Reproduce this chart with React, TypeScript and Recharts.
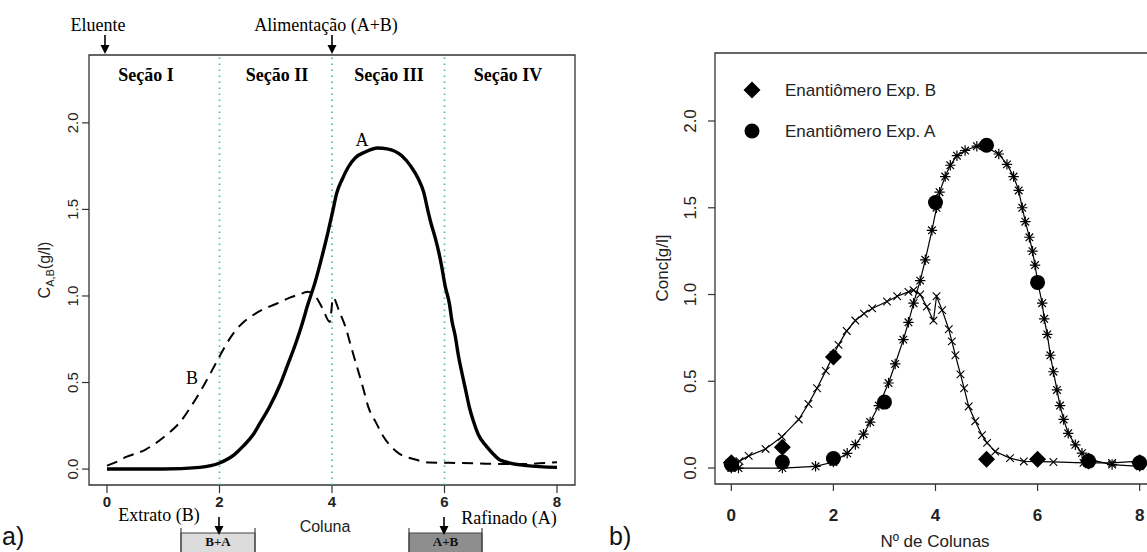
import React from "react";
import {
  ComposedChart,
  Line,
  Scatter,
  XAxis,
  YAxis,
  ReferenceLine,
  ReferenceArea,
} from "recharts";

// simulated profiles along the columns (model), A = more retained, B = less retained
const modelAX = [0, 0.14, 1.0, 1.65, 2.0, 2.27, 2.43, 2.59, 2.72, 2.89, 3.08, 3.21, 3.37, 3.47, 3.57, 3.7, 3.8, 3.93, 4.02, 4.08, 4.19, 4.29, 4.42, 4.58, 4.81, 4.98, 5.24, 5.4, 5.53, 5.63, 5.7, 5.76, 5.84, 5.9, 5.95, 6.01, 6.09, 6.13, 6.19, 6.25, 6.31, 6.38, 6.44, 6.51, 6.6, 6.74, 6.87, 7.0, 7.46, 8.0];
const modelAY = [0, 0, 0, 0.01, 0.035, 0.085, 0.135, 0.195, 0.265, 0.36, 0.49, 0.6, 0.74, 0.84, 0.95, 1.08, 1.2, 1.37, 1.5, 1.59, 1.68, 1.745, 1.8, 1.83, 1.855, 1.85, 1.81, 1.75, 1.68, 1.6, 1.5, 1.42, 1.33, 1.25, 1.17, 1.06, 0.95, 0.86, 0.77, 0.65, 0.555, 0.45, 0.36, 0.28, 0.2, 0.134, 0.086, 0.05, 0.02, 0.01];

const modelBX = [0, 0.16, 0.34, 0.67, 0.99, 1.32, 1.51, 1.68, 1.85, 2.0, 2.1, 2.26, 2.43, 2.6, 2.76, 3.05, 3.25, 3.47, 3.57, 3.7, 3.83, 3.96, 4.02, 4.13, 4.26, 4.32, 4.39, 4.49, 4.56, 4.65, 4.78, 4.91, 5.01, 5.17, 5.46, 5.73, 6.31, 6.9, 7.46, 8.0];
const modelBY = [0.02, 0.04, 0.07, 0.11, 0.18, 0.28, 0.37, 0.46, 0.56, 0.65, 0.71, 0.79, 0.85, 0.89, 0.92, 0.96, 0.99, 1.015, 1.025, 1.0, 0.93, 0.85, 0.99, 0.91, 0.8, 0.73, 0.65, 0.54, 0.46, 0.355, 0.27, 0.19, 0.145, 0.095, 0.057, 0.038, 0.035, 0.03, 0.03, 0.04];

// experimental points
const expBX = [0, 1, 2, 5, 6, 7, 8];
const expBY = [0.03, 0.12, 0.64, 0.05, 0.05, 0.04, 0.03];
const expAX = [0, 1, 2, 3, 4, 5, 6, 7, 8];
const expAY = [0.02, 0.035, 0.055, 0.38, 1.53, 1.86, 1.07, 0.04, 0.03];

const colTicks = [0, 2, 4, 6, 8];
const concTicks = [0, 0.5, 1, 1.5, 2];
const sectionBounds = [2, 4, 6];
const sectionNames = ["Seção I", "Seção II", "Seção III", "Seção IV"];

const xDomain = [-0.32, 8.32];
const yDomain = [-0.092, 2.392];

const pts = (xs: number[], ys: number[]) => xs.map((x, i) => ({ x, y: ys[i] }));
const modelA = pts(modelAX, modelAY);
const modelB = pts(modelBX, modelBY);
const expA = pts(expAX, expAY);
const expB = pts(expBX, expBY);

const SERIF = "'Liberation Serif', 'Times New Roman', serif";
const SANS = "'Liberation Sans', Arial, sans-serif";
const TEAL = "#4fb9b9";
const AXIS = "#333";

function XMark({ cx, cy }: any) {
  const s = 3.8;
  return (
    <path
      d={`M${cx - s},${cy - s}L${cx + s},${cy + s}M${cx - s},${cy + s}L${cx + s},${cy - s}`}
      stroke="#000"
      strokeWidth={1.1}
      fill="none"
    />
  );
}

function StarMark({ cx, cy }: any) {
  const s = 3.8;
  const p = 5.2;
  return (
    <path
      d={`M${cx - s},${cy - s}L${cx + s},${cy + s}M${cx - s},${cy + s}L${cx + s},${cy - s}M${cx - p},${cy}L${cx + p},${cy}M${cx},${cy - p}L${cx},${cy + p}`}
      stroke="#000"
      strokeWidth={1.2}
      fill="none"
    />
  );
}

function Diamond({ cx, cy }: any) {
  const s = 8.5;
  return <path d={`M${cx},${cy - s}L${cx + s},${cy}L${cx},${cy + s}L${cx - s},${cy}Z`} fill="#000" />;
}

function Dot({ cx, cy }: any) {
  return <circle cx={cx} cy={cy} r={7.5} fill="#000" />;
}

function Arrow({ x, y1, y2 }: { x: number; y1: number; y2: number }) {
  return (
    <g>
      <line x1={x} y1={y1} x2={x} y2={y2 - 6} stroke="#000" strokeWidth={1.6} />
      <polygon points={`${x - 4.5},${y2 - 9} ${x + 4.5},${y2 - 9} ${x},${y2}`} fill="#000" />
    </g>
  );
}

function Tray({ x, w, fill, text }: { x: number; w: number; fill: string; text: string }) {
  return (
    <g>
      <rect x={x} y={533} width={w} height={30} fill={fill} stroke="#444" strokeWidth={1} />
      <line x1={x} y1={528} x2={x} y2={552} stroke="#444" strokeWidth={1.2} />
      <line x1={x + w} y1={528} x2={x + w} y2={552} stroke="#444" strokeWidth={1.2} />
      <text x={x + w / 2} y={546} textAnchor="middle" fontFamily={SERIF} fontWeight="bold" fontSize={13} fill="#111">
        {text}
      </text>
    </g>
  );
}

const fmt = (v: number) => v.toFixed(1);

function LeftChart() {
  return (
    <ComposedChart width={590} height={552} margin={{ top: 55, right: 15, bottom: 0, left: 0 }}>
      <XAxis
        dataKey="x"
        type="number"
        domain={xDomain}
        allowDataOverflow
        ticks={colTicks}
        interval={0}
        height={67}
        axisLine={false}
        tickSize={8}
        tickLine={{ stroke: AXIS, strokeWidth: 1.2 }}
        tick={(p: any) => (
          <text x={p.x} y={p.y + 12} textAnchor="middle" fontFamily={SANS} fontWeight="bold" fontSize={15} fill="#222">
            {p.payload.value}
          </text>
        )}
      />
      <YAxis
        type="number"
        domain={yDomain}
        allowDataOverflow
        ticks={concTicks}
        interval={0}
        width={89}
        axisLine={false}
        tickSize={7}
        tickLine={{ stroke: AXIS, strokeWidth: 1.2 }}
        tick={(p: any) => (
          <text
            transform={`translate(${p.x - 2},${p.y}) rotate(-90)`}
            textAnchor="middle"
            fontFamily={SANS}
            fontSize={15}
            fill="#222"
          >
            {fmt(p.payload.value)}
          </text>
        )}
      />
      <ReferenceArea x1={xDomain[0]} x2={xDomain[1]} y1={yDomain[0]} y2={yDomain[1]} fill="none" stroke={AXIS} strokeWidth={1.3} />
      {sectionBounds.map((b) => (
        <ReferenceLine key={b} x={b} stroke={TEAL} strokeWidth={1.8} strokeDasharray="1.5 4.5" />
      ))}
      <Line
        data={modelB}
        dataKey="y"
        type="monotone"
        stroke="#000"
        strokeWidth={2}
        strokeDasharray="11 7"
        dot={false}
        isAnimationActive={false}
      />
      <Line
        data={modelA}
        dataKey="y"
        type="monotone"
        stroke="#000"
        strokeWidth={3.4}
        dot={false}
        isAnimationActive={false}
      />
    </ComposedChart>
  );
}

function RightChart() {
  return (
    <ComposedChart width={566} height={552} margin={{ top: 53, right: 10, bottom: 0, left: 0 }}>
      <XAxis
        dataKey="x"
        type="number"
        domain={xDomain}
        allowDataOverflow
        ticks={colTicks}
        interval={0}
        height={68}
        axisLine={false}
        tickSize={7}
        tickLine={{ stroke: AXIS, strokeWidth: 1.2 }}
        tick={(p: any) => (
          <text x={p.x} y={p.y + 28} textAnchor="middle" fontFamily={SANS} fontWeight="bold" fontSize={17} fill="#222">
            {p.payload.value}
          </text>
        )}
      />
      <YAxis
        type="number"
        domain={yDomain}
        allowDataOverflow
        ticks={concTicks}
        interval={0}
        width={115}
        axisLine={false}
        tickSize={7}
        tickLine={{ stroke: AXIS, strokeWidth: 1.2 }}
        tick={(p: any) => (
          <text
            transform={`translate(${p.x - 10},${p.y}) rotate(-90)`}
            textAnchor="middle"
            fontFamily={SANS}
            fontSize={17}
            fill="#222"
          >
            {fmt(p.payload.value)}
          </text>
        )}
      />
      <ReferenceArea x1={xDomain[0]} x2={xDomain[1]} y1={yDomain[0]} y2={yDomain[1]} fill="none" stroke={AXIS} strokeWidth={1.3} />
      <Line
        data={modelB}
        dataKey="y"
        type="linear"
        stroke="#000"
        strokeWidth={1.2}
        dot={(p: any) => <XMark key={`b${p.index}`} cx={p.cx} cy={p.cy} />}
        isAnimationActive={false}
      />
      <Line
        data={modelA}
        dataKey="y"
        type="linear"
        stroke="#000"
        strokeWidth={1.2}
        dot={(p: any) => <StarMark key={`a${p.index}`} cx={p.cx} cy={p.cy} />}
        isAnimationActive={false}
      />
      <Scatter data={expA} dataKey="y" shape={(p: any) => <Dot cx={p.cx} cy={p.cy} />} isAnimationActive={false} />
      <Scatter data={expB} dataKey="y" shape={(p: any) => <Diamond cx={p.cx} cy={p.cy} />} isAnimationActive={false} />
    </ComposedChart>
  );
}

export default function App() {
  return (
    <div
      style={{
        position: "absolute",
        left: 0,
        top: 0,
        width: 1147,
        height: 552,
        overflow: "hidden",
        background: "#fff",
      }}
    >
      <div style={{ position: "absolute", left: 0, top: 0 }}>
        <LeftChart />
      </div>
      <div style={{ position: "absolute", left: 600, top: 0 }}>
        <RightChart />
      </div>

      {/* annotations around the plots */}
      <svg width={1147} height={552} style={{ position: "absolute", left: 0, top: 0, pointerEvents: "none" }}>
        {/* panel a */}
        <text x={98} y={31} textAnchor="middle" fontFamily={SERIF} fontSize={18}>Eluente</text>
        <Arrow x={105} y1={35} y2={54} />
        <text x={326} y={31} textAnchor="middle" fontFamily={SERIF} fontSize={18}>Alimentação (A+B)</text>
        <Arrow x={332} y1={35} y2={54} />

        {sectionNames.map((s, i) => (
          <text key={s} x={[146, 277, 389, 508][i]} y={81} textAnchor="middle" fontFamily={SERIF} fontWeight="bold" fontSize={18}>
            {s}
          </text>
        ))}
        <text x={362} y={146} textAnchor="middle" fontFamily={SERIF} fontSize={18}>A</text>
        <text x={192} y={384} textAnchor="middle" fontFamily={SERIF} fontSize={18}>B</text>

        <text transform="translate(50,270) rotate(-90)" textAnchor="middle" fontFamily={SANS} fontSize={16} fill="#222">
          C<tspan fontSize={11} dy={4}>A,B</tspan>
          <tspan dy={-4}>(g/l)</tspan>
        </text>

        <text x={159} y={521} textAnchor="middle" fontFamily={SERIF} fontSize={18}>Extrato (B)</text>
        <text x={509} y={524} textAnchor="middle" fontFamily={SERIF} fontSize={18}>Rafinado (A)</text>
        <text x={325} y={532} textAnchor="middle" fontFamily={SANS} fontSize={16} fill="#222">Coluna</text>
        <Tray x={181} w={74} fill="#dcdcdc" text="B+A" />
        <Tray x={409} w={73} fill="#8e8e8e" text="A+B" />
        <Arrow x={219} y1={517} y2={535} />
        <Arrow x={444} y1={517} y2={535} />

        <text x={2} y={545} fontFamily={SANS} fontSize={25} fill="#111">a)</text>

        {/* panel b */}
        <text x={609} y={545} fontFamily={SANS} fontSize={25} fill="#111">b)</text>
        <text transform="translate(668,268) rotate(-90)" textAnchor="middle" fontFamily={SANS} fontSize={17} fill="#222">
          Conc[g/l]
        </text>
        <text x={935} y={547} textAnchor="middle" fontFamily={SANS} fontSize={17} fill="#222">Nº de Colunas</text>

        <Diamond cx={752} cy={90} />
        <text x={785} y={96} fontFamily={SANS} fontSize={17} fill="#222">Enantiômero Exp. B</text>
        <Dot cx={752} cy={131} />
        <text x={785} y={137} fontFamily={SANS} fontSize={17} fill="#222">Enantiômero Exp. A</text>
      </svg>
    </div>
  );
}
